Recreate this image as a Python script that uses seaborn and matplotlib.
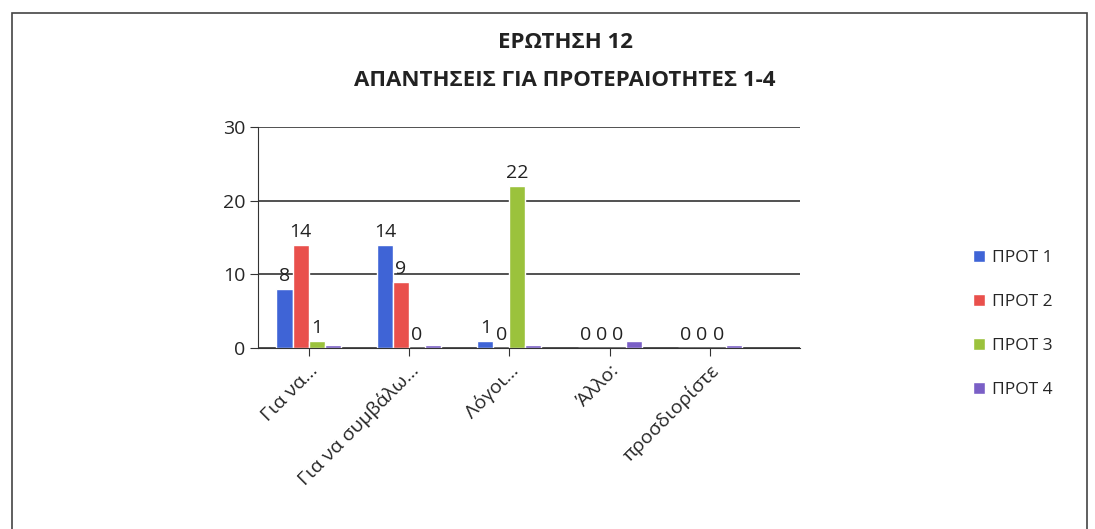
import numpy as np
import pandas as pd
import matplotlib.pyplot as plt
import matplotlib.patches as mpatches
import seaborn as sns

categories = ["Για να...", "Για να συμβάλω...", "Λόγοι...", "Άλλο:", "προσδιορίστε"]
series = ["ΠΡΟΤ 1", "ΠΡΟΤ 2", "ΠΡΟΤ 3", "ΠΡΟΤ 4"]
prot1 = [8, 14, 1, 0, 0]
prot2 = [14, 9, 0, 0, 0]
prot3 = [1, 0, 22, 0, 0]
prot4 = [0.4, 0.4, 0.4, 1, 0.4]
colors = ["#3f64d6", "#e9504c", "#9bc23c", "#7a5fc6"]

rows = []
for s, vals in zip(series, [prot1, prot2, prot3, prot4]):
    for c, v in zip(categories, vals):
        rows.append({"cat": c, "prot": s, "val": v})
df = pd.DataFrame(rows)

sns.set_style("white")
plt.rcParams['font.family'] = ['Open Sans', 'DejaVu Sans']

fig = plt.figure(figsize=(10.95, 5.29), dpi=100)
ax = fig.add_axes([0.236, 0.342, 0.495, 0.418])

sns.barplot(data=df, x="cat", y="val", hue="prot", palette=colors,
            width=0.64, ax=ax, legend=True, saturation=1)

# data labels for the first three series
for cont in ax.containers[:3]:
    ax.bar_label(cont, fontsize=14, padding=3, color="#222222")

ax.set_ylim(0, 30)
ax.set_yticks([0, 10, 20, 30])
ax.set_xlim(-0.5, 4.9)
ax.yaxis.grid(True, color="#333333", linewidth=1.2)
ax.set_axisbelow(True)
ax.set_xlabel("")
ax.set_ylabel("")
for side in ["top", "right"]:
    ax.spines[side].set_visible(False)
ax.spines["left"].set_color("#333333")
ax.spines["bottom"].set_color("#333333")
ax.tick_params(axis="y", labelsize=14, left=True, length=6, color="#333333")
ax.tick_params(axis="x", labelsize=14, bottom=True, length=6, color="#333333")
plt.setp(ax.get_xticklabels(), rotation=45, ha="right", rotation_mode="anchor")

handles, labels = ax.get_legend_handles_labels()
ax.legend(handles, labels, loc="center left", bbox_to_anchor=(1.29, 0.11),
          frameon=False, fontsize=12.5, handlelength=0.7, handleheight=0.7,
          labelspacing=1.6, handletextpad=0.4)

fig.text(0.516, 0.92, "ΕΡΩΤΗΣΗ 12", ha="center", va="center",
         fontsize=16, fontweight="bold", color="#222222")
fig.text(0.516, 0.848, "ΑΠΑΝΤΗΣΕΙΣ ΓΙΑ ΠΡΟΤΕΡΑΙΟΤΗΤΕΣ 1-4", ha="center",
         va="center", fontsize=16, fontweight="bold", color="#222222")

fig.patches.append(mpatches.Rectangle((0.011, -0.01), 0.982, 0.985,
                                      transform=fig.transFigure, fill=False,
                                      edgecolor="#444444", linewidth=1.2))

fig.savefig("out.png", dpi=100)
